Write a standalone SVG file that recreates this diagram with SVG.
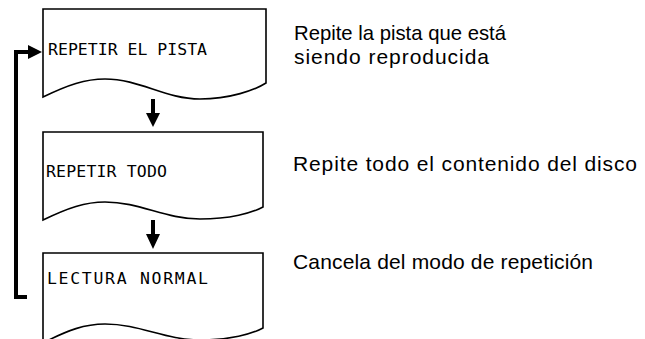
<svg xmlns="http://www.w3.org/2000/svg" width="645" height="339" viewBox="0 0 645 339">
<style>
.box{fill:#fff;stroke:#000;stroke-width:1.6;stroke-linejoin:miter}
.lbl{font-family:"DejaVu Sans Mono","Liberation Mono",monospace;font-size:16.5px;fill:#000}
.desc{font-family:"Liberation Sans",Arial,sans-serif;font-size:21px;fill:#000}
.wire{fill:none;stroke:#000;stroke-width:4}
.head{fill:#000;stroke:none}
</style>
<rect x="0" y="0" width="645" height="339" fill="#fff"/>
<g id="node-repetir-pista">
<path class="box" d="M43,9 L266,9 L266,83 C255,90 230,99 200,99 C165,99 140,79 105,79 C85,79 68,85 43,97 Z"/>
<text class="lbl" x="48" y="55" textLength="159" lengthAdjust="spacing">REPETIR EL PISTA</text>
</g>
<g id="node-repetir-todo">
<path class="box" d="M43,132 L263,132 L263,207 C252,213 230,219 200,219 C165,219 140,202 105,202 C85,202 68,208 43,220 Z"/>
<text class="lbl" x="46" y="177" textLength="121" lengthAdjust="spacing">REPETIR TODO</text>
</g>
<g id="node-lectura-normal">
<path class="box" d="M43,253 L263,253 L263,328 C252,334 230,340 200,340 C165,340 140,324 105,324 C85,324 68,330 43,343 Z"/>
<text class="lbl" x="47" y="284" textLength="161" lengthAdjust="spacing">LECTURA NORMAL</text>
</g>
<g id="connectors">
<line class="wire" x1="153" y1="99" x2="153" y2="115"/>
<polygon class="head" points="146,113 160,113 153,127"/>
<line class="wire" x1="153" y1="220" x2="153" y2="236"/>
<polygon class="head" points="146,234 160,234 153,249"/>
<path class="wire" d="M27,297 L16,297 L16,52 L30,52"/>
<polygon class="head" points="28,45 42,52 28,59"/>
</g>
<g id="descriptions">
<text class="desc" x="294" y="40" textLength="212" lengthAdjust="spacingAndGlyphs">Repite la pista que está</text>
<text class="desc" x="294" y="64" textLength="195" lengthAdjust="spacing">siendo reproducida</text>
<text class="desc" x="293" y="171" textLength="344" lengthAdjust="spacing">Repite todo el contenido del disco</text>
<text class="desc" x="293" y="269" textLength="300" lengthAdjust="spacing">Cancela del modo de repetición</text>
</g>
</svg>
